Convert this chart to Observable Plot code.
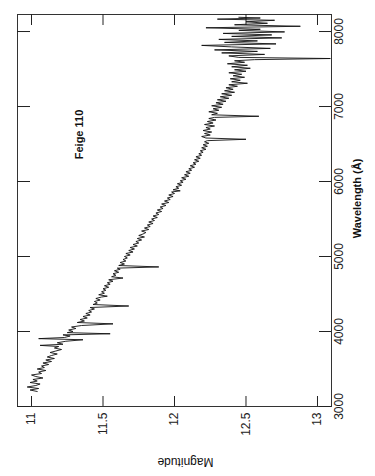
<!DOCTYPE html>
<html>
<head>
<meta charset="utf-8">
<script src="https://cdn.jsdelivr.net/npm/d3@7"></script>
<script src="https://cdn.jsdelivr.net/npm/@observablehq/plot@0.6"></script>
<style>
  html, body { margin: 0; padding: 0; background: #fff; }
  #chart svg { display: block; font-family: "Liberation Sans", Arial, Helvetica, sans-serif; }
</style>
</head>
<body>
<div id="chart"></div>
<script>
// Spectrum of Feige 110 (wavelength in Å, magnitude)
const wavelength = [
  3200,3220,3240,3260,3280,3300,3320,3340,3360,3380,3400,3420,3440,3460,3480,3500,3520,3540,3560,3580,
  3600,3620,3640,3660,3680,3700,3720,3740,3760,3780,3800,3815,3830,3850,3870,3890,3905,3920,3940,3955,
  3970,3985,4000,4020,4040,4060,4080,4102,4120,4140,4160,4180,4200,4220,4240,4260,4280,4300,4320,4340,
  4360,4380,4400,4420,4440,4460,4471,4490,4510,4530,4550,4570,4590,4610,4630,4650,4670,4690,4713,4730,
  4750,4770,4790,4810,4830,4845,4861,4880,4900,4920,4940,4960,4980,5000,5020,5040,5060,5080,5100,5120,
  5140,5160,5180,5200,5220,5240,5260,5280,5300,5320,5340,5360,5380,5400,5420,5440,5460,5480,5500,5520,
  5540,5560,5580,5600,5620,5640,5660,5680,5700,5720,5740,5760,5780,5800,5820,5840,5860,5876,5890,5910,
  5930,5950,5970,5990,6010,6030,6050,6070,6090,6110,6130,6150,6170,6190,6210,6230,6250,6270,6290,6310,
  6330,6350,6370,6390,6410,6430,6450,6470,6490,6510,6530,6545,6563,6580,6600,6620,6640,6660,6680,6700,
  6720,6740,6760,6780,6800,6820,6840,6855,6870,6890,6910,6930,6950,6970,6990,7010,7030,7050,7070,7090,
  7110,7130,7150,7170,7190,7210,7230,7250,7270,7290,7310,7330,7350,7370,7390,7410,7430,7450,7470,7490,
  7510,7530,7550,7570,7590,7610,7625,7640,7655,7675,7695,7715,7735,7755,7775,7795,7815,7835,7855,7875,
  7895,7915,7935,7955,7975,7995,8015,8030,8050,8070,8090,8110,8130,8150,8165,8180,8190
];
const magnitude = [
  11.04,10.99,11.05,10.97,11.03,11.06,10.99,11.04,11.01,11.08,11.03,11.00,11.07,11.05,11.10,11.04,11.09,11.07,11.12,11.08,
  11.14,11.10,11.16,11.11,11.14,11.18,11.13,11.17,11.21,11.16,11.19,11.06,11.22,11.18,11.24,11.36,11.05,11.23,11.27,11.22,
  11.55,11.25,11.29,11.26,11.31,11.28,11.35,11.57,11.32,11.37,11.34,11.39,11.36,11.41,11.38,11.42,11.40,11.44,11.41,11.68,
  11.43,11.46,11.44,11.48,11.45,11.49,11.53,11.47,11.51,11.49,11.52,11.50,11.54,11.51,11.55,11.53,11.57,11.54,11.64,11.56,
  11.59,11.57,11.61,11.58,11.62,11.60,11.89,11.61,11.65,11.62,11.66,11.64,11.67,11.65,11.69,11.66,11.71,11.68,11.72,11.69,
  11.74,11.71,11.75,11.73,11.77,11.74,11.79,11.75,11.78,11.80,11.77,11.82,11.79,11.83,11.81,11.85,11.82,11.86,11.84,11.88,
  11.85,11.89,11.87,11.91,11.88,11.92,11.90,11.94,11.91,11.96,11.93,11.97,11.95,11.99,11.96,12.00,11.98,12.04,11.99,12.03,
  12.01,12.05,12.02,12.06,12.04,12.08,12.05,12.10,12.07,12.11,12.08,12.12,12.10,12.14,12.11,12.15,12.13,12.17,12.14,12.18,
  12.15,12.19,12.17,12.20,12.18,12.22,12.19,12.23,12.20,12.24,12.21,12.23,12.50,12.22,12.19,12.25,12.21,12.26,12.20,12.25,
  12.22,12.28,12.21,12.27,12.23,12.29,12.24,12.28,12.59,12.26,12.30,12.24,12.31,12.27,12.33,12.26,12.34,12.29,12.36,12.30,
  12.38,12.32,12.40,12.33,12.42,12.35,12.41,12.36,12.44,12.38,12.51,12.40,12.46,12.39,12.49,12.41,12.47,12.38,12.50,12.42,
  12.53,12.40,12.51,12.37,12.49,12.42,12.56,13.09,12.45,12.38,12.63,12.33,12.58,12.28,12.67,12.40,12.19,12.71,12.35,12.58,
  12.31,12.75,12.40,12.68,12.34,12.77,12.45,12.60,12.22,12.88,12.42,12.65,12.50,12.70,12.30,12.60,12.45
];
const magTicks = [11, 11.5, 12, 12.5, 13];
const magTickLabels = ["11", "11.5", "12", "12.5", "13"];
const waveTicks = [3000, 4000, 5000, 6000, 7000, 8000];
const waveTickLabels = ["3000", "4000", "5000", "6000", "7000", "8000"];
const labelText = ["Feige 110"];
const labelMag = [11.336];
const labelWave = [6627];

const spectrum = wavelength.map((w, i) => ({wave: w, mag: magnitude[i]}));
const magT = magTicks.map((v, i) => ({v, t: magTickLabels[i]}));
const waveT = waveTicks.map((v, i) => ({v, t: waveTickLabels[i]}));
const annot = labelText.map((t, i) => ({t, mag: labelMag[i], wave: labelWave[i]}));

const chart = Plot.plot({
  width: 375,
  height: 476,
  marginLeft: 17,
  marginRight: 44,
  marginTop: 14,
  marginBottom: 70,
  style: {fontFamily: "'Liberation Sans', Arial, Helvetica, sans-serif", background: "#fff"},
  x: {domain: [10.902, 13.098], axis: null},
  y: {domain: [3000, 8227], axis: null},
  marks: [
    Plot.frame({stroke: "#333", strokeWidth: 1}),
    Plot.tickX(magT, {x: "v", insetTop: 382, stroke: "#222"}),
    Plot.tickX(magT, {x: "v", insetBottom: 381, stroke: "#222"}),
    Plot.tickY(waveT, {y: "v", insetRight: 301, stroke: "#222"}),
    Plot.tickY(waveT, {y: "v", insetLeft: 302, stroke: "#222"}),
    Plot.line(spectrum, {x: "mag", y: "wave", stroke: "#111", strokeWidth: 0.9}),
    Plot.text(magT, {x: "v", text: "t", frameAnchor: "bottom", dy: 6, rotate: -90, textAnchor: "end", lineAnchor: "middle", fontSize: 12, fill: "#222"}),
    Plot.text(waveT, {y: "v", text: "t", frameAnchor: "right", dx: 3, rotate: -90, textAnchor: "middle", lineAnchor: "top", fontSize: 12, fill: "#222"}),
    Plot.text(["Wavelength (Å)"], {frameAnchor: "right", dx: 22, dy: -12, rotate: -90, textAnchor: "middle", lineAnchor: "top", fontSize: 11, fontWeight: "bold", fill: "#111"}),
    Plot.text(["Magnitude"], {frameAnchor: "bottom", dx: 11, dy: 55, rotate: 180, textAnchor: "middle", lineAnchor: "middle", fontSize: 12, fill: "#111"}),
    Plot.text(annot, {x: "mag", y: "wave", text: "t", rotate: -90, textAnchor: "middle", lineAnchor: "middle", fontSize: 11, fontWeight: "bold", fill: "#111"})
  ]
});
document.getElementById("chart").append(chart);
</script>
</body>
</html>
